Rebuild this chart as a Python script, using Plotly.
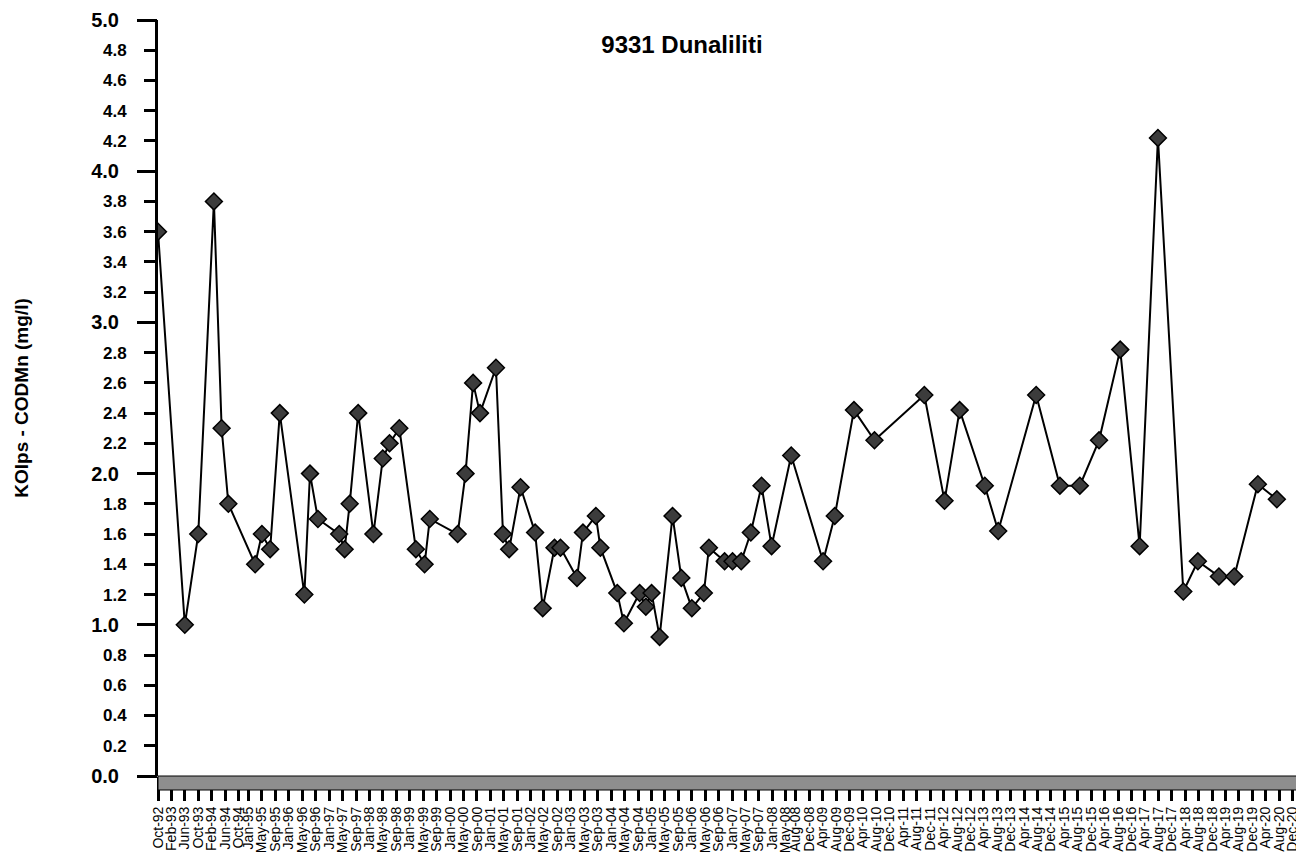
import pandas as pd
import plotly.graph_objects as go

# ---- data ----
sample_dates = [
    "1992-10-01", "1993-06-01", "1993-10-01", "1994-02-20", "1994-05-01", "1994-07-01",
    "1995-03-01", "1995-05-01", "1995-07-15", "1995-10-10", "1996-05-20", "1996-07-10",
    "1996-09-20", "1997-04-01", "1997-05-20", "1997-07-05", "1997-09-20", "1998-02-05",
    "1998-05-01", "1998-07-01", "1998-09-28", "1999-02-25", "1999-05-15", "1999-07-01",
    "2000-03-10", "2000-05-20", "2000-07-28", "2000-09-28", "2001-02-20", "2001-04-25",
    "2001-06-20", "2001-10-01", "2002-02-10", "2002-04-20", "2002-08-05", "2002-09-28",
    "2003-02-25", "2003-04-20", "2003-08-15", "2003-09-25", "2004-02-25", "2004-04-25",
    "2004-09-15", "2004-11-10", "2005-01-01", "2005-03-15", "2005-07-10", "2005-09-28",
    "2006-01-01", "2006-04-20", "2006-06-05", "2006-10-25", "2007-01-05", "2007-03-25",
    "2007-06-20", "2007-09-25", "2007-12-25", "2008-06-20", "2009-04-05", "2009-07-20",
    "2010-01-10", "2010-07-15", "2011-10-10", "2012-04-10", "2012-08-25", "2013-04-10",
    "2013-08-10", "2014-07-20", "2015-02-20", "2015-08-20", "2016-02-10", "2016-08-20",
    "2017-02-12", "2017-07-28", "2018-03-15", "2018-07-25", "2019-02-01", "2019-06-20",
    "2020-01-20", "2020-07-10",
]
codmn_values = [
    3.60, 1.00, 1.60, 3.80, 2.30, 1.80,
    1.40, 1.60, 1.50, 2.40, 1.20, 2.00,
    1.70, 1.60, 1.50, 1.80, 2.40, 1.60,
    2.10, 2.20, 2.30, 1.50, 1.40, 1.70,
    1.60, 2.00, 2.60, 2.40, 2.70, 1.60,
    1.50, 1.91, 1.61, 1.11, 1.51, 1.51,
    1.31, 1.61, 1.72, 1.51, 1.21, 1.01,
    1.21, 1.12, 1.21, 0.92, 1.72, 1.31,
    1.11, 1.21, 1.51, 1.42, 1.42, 1.42,
    1.61, 1.92, 1.52, 2.12, 1.42, 1.72,
    2.42, 2.22, 2.52, 1.82, 2.42, 1.92,
    1.62, 2.52, 1.92, 1.92, 2.22, 2.82,
    1.52, 4.22, 1.22, 1.42, 1.32, 1.32,
    1.93, 1.83,
]

x_tick_labels = [
    "Oct-92", "Feb-93", "Jun-93", "Oct-93", "Feb-94", "Jun-94", "Oct-94",
    "Jan-95", "May-95", "Sep-95", "Jan-96", "May-96", "Sep-96", "Jan-97", "May-97", "Sep-97",
    "Jan-98", "May-98", "Sep-98", "Jan-99", "May-99", "Sep-99", "Jan-00", "May-00", "Sep-00",
    "Jan-01", "May-01", "Sep-01", "Jan-02", "May-02", "Sep-02", "Jan-03", "May-03", "Sep-03",
    "Jan-04", "May-04", "Sep-04", "Jan-05", "May-05", "Sep-05", "Jan-06", "May-06", "Sep-06",
    "Jan-07", "May-07", "Sep-07", "Jan-08", "May-08",
    "Aug-08", "Dec-08", "Apr-09", "Aug-09", "Dec-09", "Apr-10", "Aug-10", "Dec-10",
    "Apr-11", "Aug-11", "Dec-11", "Apr-12", "Aug-12", "Dec-12", "Apr-13", "Aug-13", "Dec-13",
    "Apr-14", "Aug-14", "Dec-14", "Apr-15", "Aug-15", "Dec-15", "Apr-16", "Aug-16", "Dec-16",
    "Apr-17", "Aug-17", "Dec-17", "Apr-18", "Aug-18", "Dec-18", "Apr-19", "Aug-19", "Dec-19",
    "Apr-20", "Aug-20", "Dec-20",
]
y_minor_vals = [0.2, 0.4, 0.6, 0.8, 1.2, 1.4, 1.6, 1.8, 2.2, 2.4, 2.6, 2.8,
                3.2, 3.4, 3.6, 3.8, 4.2, 4.4, 4.6, 4.8]
y_major_vals = [0.0, 1.0, 2.0, 3.0, 4.0, 5.0]

title_text = "9331 Dunaliliti"
y_title = "KOlps - CODMn (mg/l)"

# ---- build ----
x_dates = pd.to_datetime(sample_dates)
tick_dates = pd.to_datetime(x_tick_labels, format="%b-%y")

# the page body adds an 8px offset, so the figure is 8px smaller than the window
W, H = 1296, 857
L, R, T, B = 150, 4, 12, 89
plot_h = H - T - B

fig = go.Figure()
fig.add_trace(go.Scatter(
    x=x_dates, y=codmn_values, mode="lines+markers",
    line=dict(color="black", width=2),
    marker=dict(symbol="diamond", size=13, color="#3c3c3c",
                line=dict(color="black", width=1.5)),
    showlegend=False, hoverinfo="x+y",
))
# empty trace so the overlay axis (major ticks) is drawn
fig.add_trace(go.Scatter(x=[], y=[], yaxis="y2", showlegend=False))

fig.update_layout(
    width=W, height=H,
    margin=dict(l=L, r=R, t=T, b=B, autoexpand=False),
    paper_bgcolor="white", plot_bgcolor="white",
    font=dict(family="Liberation Sans, Arial, sans-serif", color="black"),
    title=dict(text=f"<b>{title_text}</b>", x=674 / W, xanchor="center",
               y=1 - 37 / H, yanchor="middle",
               font=dict(size=24, color="black")),
    xaxis=dict(
        type="date", automargin=False,
        range=["1992-10-01", "2021-02-05"],
        tickmode="array", tickvals=tick_dates, ticktext=x_tick_labels,
        tickangle=-90, tickfont=dict(size=14, color="black"),
        ticks="outside", ticklen=24, tickwidth=3, tickcolor="black",
        ticklabeloverflow="allow",
        showline=False, showgrid=False, zeroline=False,
    ),
    yaxis=dict(
        range=[0, 5], automargin=False,
        tickmode="array", tickvals=y_minor_vals,
        ticktext=[f"<b>{v:.1f}</b>" for v in y_minor_vals],
        tickfont=dict(size=17, color="black"),
        ticks="outside", ticklen=11, tickwidth=3, tickcolor="black",
        ticklabelstandoff=14, ticklabeloverflow="allow",
        showline=True, linewidth=3, linecolor="black",
        showgrid=False, zeroline=False,
        title=dict(text=f"<b>{y_title}</b>", font=dict(size=19, color="black"),
                   standoff=70),
    ),
    yaxis2=dict(
        range=[0, 5], overlaying="y", side="left", anchor="x", automargin=False,
        tickmode="array", tickvals=y_major_vals,
        ticktext=[f"<b>{v:.1f}</b>" for v in y_major_vals],
        tickfont=dict(size=20, color="black"),
        ticks="outside", ticklen=20, tickwidth=3, tickcolor="black",
        ticklabelstandoff=14, ticklabeloverflow="allow",
        showline=False, showgrid=False, zeroline=False,
    ),
    shapes=[dict(
        type="rect", xref="paper", yref="paper",
        x0=0, x1=1, y0=-14 / plot_h, y1=0,
        fillcolor="#8e8e8e", line=dict(color="black", width=1), layer="above",
    )],
)

fig.write_html("out.html")
